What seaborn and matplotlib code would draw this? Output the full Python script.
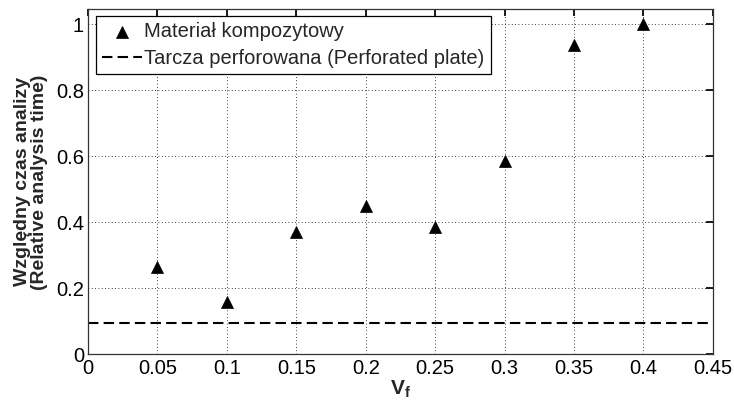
import matplotlib
matplotlib.use("Agg")
import matplotlib.pyplot as plt
import seaborn as sns
import pandas as pd

vf = [0.05, 0.10, 0.15, 0.20, 0.25, 0.30, 0.35, 0.40]
rel_time = [0.266, 0.159, 0.370, 0.450, 0.387, 0.586, 0.938, 1.000]
perforated_level = 0.094
x_ticks = [0, 0.05, 0.1, 0.15, 0.2, 0.25, 0.3, 0.35, 0.4, 0.45]
x_tick_labels = ["0", "0.05", "0.1", "0.15", "0.2", "0.25", "0.3", "0.35", "0.4", "0.45"]
y_ticks = [0, 0.2, 0.4, 0.6, 0.8, 1.0]
y_tick_labels = ["0", "0.2", "0.4", "0.6", "0.8", "1"]
label_composite = "Materiał kompozytowy"
label_plate = "Tarcza perforowana (Perforated plate)"

sns.set_theme(style="white")
plt.rcParams["font.family"] = ["Liberation Sans", "DejaVu Sans"]
plt.rcParams["mathtext.fontset"] = "custom"
plt.rcParams["mathtext.bf"] = "Liberation Sans:bold"
plt.rcParams["mathtext.rm"] = "Liberation Sans"

df = pd.DataFrame({"Vf": vf, "t": rel_time})

fig = plt.figure(figsize=(7.34, 4.07), dpi=100)
ax = fig.add_axes([0.12, 0.129, 0.851, 0.848])

sns.scatterplot(data=df, x="Vf", y="t", marker="^", s=75, color="black",
                edgecolor="black", linewidth=0.5, ax=ax, label=label_composite, zorder=3)
ax.axhline(perforated_level, color="black", linestyle=(0, (5, 2.5)), linewidth=1.5,
           label=label_plate, zorder=2)

ax.set_xlim(0, 0.45)
ax.set_ylim(0, 1.045)
ax.set_xticks(x_ticks)
ax.set_xticklabels(x_tick_labels, fontsize=14.5)
ax.set_yticks(y_ticks)
ax.set_yticklabels(y_tick_labels, fontsize=14.5)
ax.grid(True, color="black", linestyle=(0, (1, 3)), linewidth=0.6)
ax.tick_params(direction="in", length=5, top=True, right=True, color="black",
               labelcolor="black", pad=3)
for sp in ax.spines.values():
    sp.set_visible(True)
    sp.set_color("#333333")
    sp.set_linewidth(0.9)

ax.set_xlabel(r"$\mathbf{V_f}$", fontsize=15, labelpad=1)
ax.set_ylabel("Względny czas analizy\n(Relative analysis time)", fontsize=14,
              fontweight="bold", labelpad=6, linespacing=1.0)

leg = ax.legend(loc="upper left", bbox_to_anchor=(0.0128, 0.981), fontsize=14.5,
                frameon=True, fancybox=False, edgecolor="black", framealpha=1,
                handlelength=2.0, handletextpad=0.1, borderpad=0.3, labelspacing=0.42,
                borderaxespad=0)
leg.get_frame().set_linewidth(0.9)

fig.savefig("out.png", dpi=100)
